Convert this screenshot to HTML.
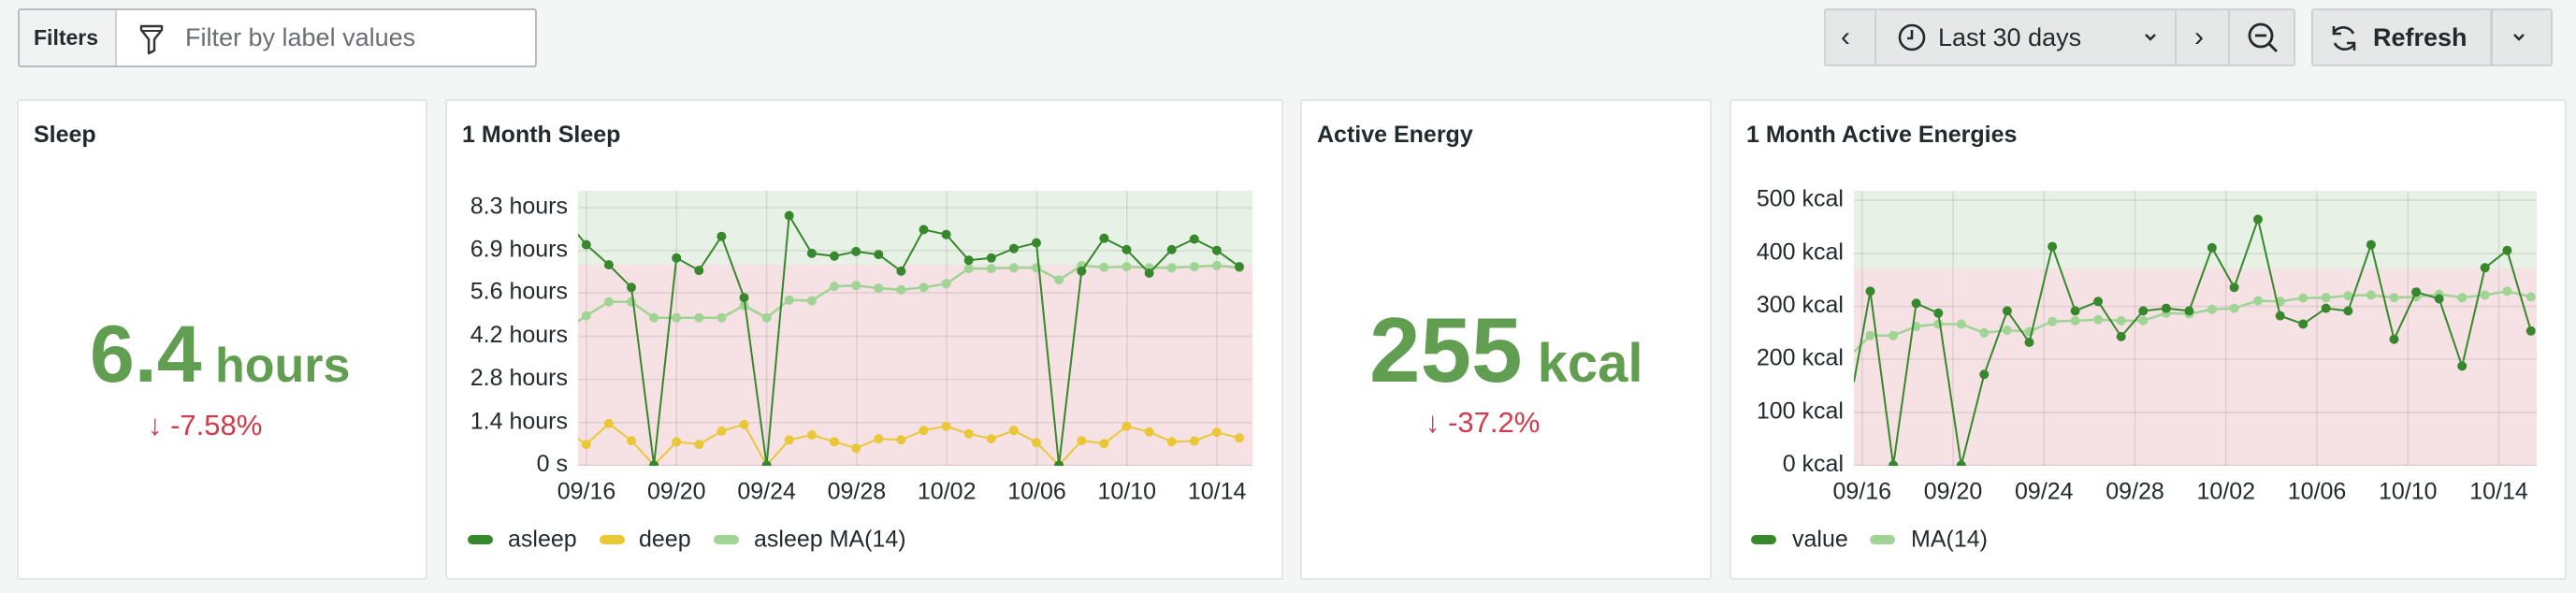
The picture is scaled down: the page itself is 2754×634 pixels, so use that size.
<!DOCTYPE html>
<html><head><meta charset="utf-8"><style>
*{box-sizing:border-box;margin:0;padding:0}
body{width:2754px;height:634px;background:#f4f5f5;font-family:"Liberation Sans",sans-serif;color:#24292e;position:relative;overflow:hidden}
.abs{position:absolute}
.panel{position:absolute;top:106px;height:514px;background:#fff;border:2px solid #e4e6e8;border-radius:3px}
.title{position:absolute;top:22px;left:16px;font-size:25px;font-weight:bold;color:#24292e}
.btn{position:absolute;background:#e6e8e8;border:2px solid #cfd2d4;border-radius:3px;top:9px;height:62px}
.sep{position:absolute;top:0;bottom:0;width:2px;background:#cfd2d4}
.bt{position:absolute;top:0;height:58px;line-height:58px;font-size:27px;color:#24292e}
</style></head><body>
<div class="abs" style="left:19px;top:9px;width:555px;height:63px;background:#fff;border:2px solid #b8bbbe;border-radius:3px"></div>
<div class="abs" style="left:21px;top:11px;width:104px;height:59px;background:#f1f2f2;border-right:2px solid #cfd2d4"></div>
<div class="abs" style="left:36px;top:27px;font-size:23px;font-weight:bold;color:#24292e">Filters</div>
<svg class="abs" style="left:148px;top:25px" width="28" height="34" viewBox="0 0 28 34"><path d="M3 3h22v4l-8 10v12l-6 3V17L3 7z" fill="none" stroke="#333" stroke-width="2.4" stroke-linejoin="round"/><line x1="3" y1="8" x2="25" y2="8" stroke="#333" stroke-width="2"/></svg>
<div class="abs" style="left:198px;top:25px;font-size:27px;color:#6a6e73">Filter by label values</div>

<div class="btn" style="left:1950px;width:504px">
 <div class="sep" style="left:52px"></div><div class="sep" style="left:373px"></div><div class="sep" style="left:430px"></div>
 <div class="bt" style="left:16px;font-size:30px">‹</div>
 <svg class="abs" style="left:76px;top:13px" width="32" height="32"><circle cx="16" cy="16" r="13" fill="none" stroke="#24292e" stroke-width="2.6"/><path d="M16 8v9h-5" fill="none" stroke="#24292e" stroke-width="2.6"/></svg>
 <div class="bt" style="left:120px">Last 30 days</div>
 <svg class="abs" style="left:340px;top:24px" width="14" height="10"><path d="M2 2l5 5 5-5" fill="none" stroke="#24292e" stroke-width="2.4"/></svg>
 <div class="bt" style="left:394px;font-size:30px">›</div>
 <svg class="abs" style="left:450px;top:12px" width="36" height="36"><circle cx="15" cy="15" r="12" fill="none" stroke="#24292e" stroke-width="2.8"/><line x1="9" y1="15" x2="21" y2="15" stroke="#24292e" stroke-width="2.8"/><line x1="24" y1="24" x2="32" y2="32" stroke="#24292e" stroke-width="2.8"/></svg>
</div>
<div class="btn" style="left:2471px;width:258px">
 <div class="sep" style="left:189px;width:3px"></div>
 <svg class="abs" style="left:16px;top:13px" width="34" height="34" viewBox="0 0 34 34"><path d="M27 12A12 12 0 0 0 6 11M7 22a12 12 0 0 0 21 1" fill="none" stroke="#24292e" stroke-width="2.6"/><path d="M6 4v8h8M28 30v-8h-8" fill="none" stroke="#24292e" stroke-width="2.6"/></svg>
 <div class="bt" style="left:64px;font-weight:bold">Refresh</div>
 <svg class="abs" style="left:213px;top:24px" width="14" height="10"><path d="M2 2l5 5 5-5" fill="none" stroke="#24292e" stroke-width="2.4"/></svg>
</div>

<div class="panel" style="left:18px;width:439px"><div class="title">Sleep</div></div>
<div class="panel" style="left:476px;width:896px"><div class="title">1 Month Sleep</div></div>
<div class="panel" style="left:1390px;width:440px"><div class="title">Active Energy</div></div>
<div class="panel" style="left:1849px;width:895px"><div class="title">1 Month Active Energies</div></div>

<div class="abs" style="left:96px;top:330px;color:#629e51;font-weight:bold;white-space:nowrap"><span style="font-size:86px">6.4</span><span style="font-size:52px"> hours</span></div>
<div class="abs" style="left:158px;top:437px;color:#d13c4a;font-size:31px;white-space:nowrap"><b>↓</b> -7.58%</div>
<div class="abs" style="left:1464px;top:318px;color:#629e51;font-weight:bold;white-space:nowrap"><span style="font-size:98px">255</span><span style="font-size:58px"> kcal</span></div>
<div class="abs" style="left:1524px;top:434px;color:#d13c4a;font-size:31px;white-space:nowrap"><b>↓</b> -37.2%</div>

<svg id="c" class="abs" style="left:0;top:0" width="2754" height="634" font-family="Liberation Sans, sans-serif"></svg>
<script>
var S=document.getElementById('c'),h='';
function T(x,y,t,a,sz,col){h+='<text x="'+x+'" y="'+y+'" text-anchor="'+(a||'start')+'" font-size="'+(sz||24)+'" fill="'+(col||'#24292e')+'" dominant-baseline="middle">'+t+'</text>';}
var L1=618,R1=1339,T1=204,B1=498;
h+='<clipPath id="k1"><rect x="'+L1+'" y="'+T1+'" width="'+(R1-L1)+'" height="'+(B1-T1)+'"/></clipPath>';
h+='<rect x="'+L1+'" y="204" width="'+(R1-L1)+'" height="79" fill="#e7f1e5"/><rect x="'+L1+'" y="283" width="'+(R1-L1)+'" height="215" fill="#f6e2e4"/>';
var yl=['8.3 hours','6.9 hours','5.6 hours','4.2 hours','2.8 hours','1.4 hours','0 s'],yy=[222,268,313,359.5,405.6,451.7,497.4];
for(var i=0;i<7;i++){h+='<line x1="'+L1+'" x2="'+R1+'" y1="'+yy[i]+'" y2="'+yy[i]+'" stroke="rgba(0,0,0,0.09)" stroke-width="1.5"/>';T(607,yy[i],yl[i],'end',25);}
var xl=['09/16','09/20','09/24','09/28','10/02','10/06','10/10','10/14'];
for(i=0;i<8;i++){var x=627+i*96.3;h+='<line x1="'+x+'" x2="'+x+'" y1="'+T1+'" y2="'+B1+'" stroke="rgba(0,0,0,0.09)" stroke-width="1.5"/>';T(x,527,xl[i],'middle',25);}
var zx=[692,702,729,756,783,810,837,864,891,918,945,972,999,1025,1052,1079,1106,1133,1160,1187,1214,1241,1268,1295,1322,1349,1376,1403,1430,1457,1484];
var as=[620,647,700,760,1230,682,715,625,787,1230,570,670,677,665,673,717,607,620,688,682,657,642,1230,717,630,660,722,660,632,662,705];
var dp=[1160,1175,1120,1165,1230,1168,1175,1140,1122,1230,1163,1150,1168,1185,1160,1163,1138,1127,1147,1160,1138,1170,1230,1165,1173,1127,1142,1168,1166,1143,1158];
var ma=[850,835,798,798,840,840,840,840,808,840,793,795,757,755,762,766,760,750,710,710,708,708,740,702,707,705,708,708,705,702,708];
function ser(xs,ys,fx,col,w,clip){var p='',d='';for(var j=0;j<xs.length;j++){var X=fx(xs[j]),Y=ys[j]/2.473;p+=(j?'L':'M')+X.toFixed(1)+' '+Y.toFixed(1);if(j>0)d+='<circle cx="'+X.toFixed(1)+'" cy="'+Y.toFixed(1)+'" r="5" fill="'+col+'"/>';}
h+='<g clip-path="url(#'+clip+')"><path d="'+p+'" fill="none" stroke="'+col+'" stroke-width="'+w+'"/>'+d+'</g>';}
var f1=function(x){return x/1.12;};
ser(zx,dp,f1,'#eac736',2,'k1');ser(zx,ma,f1,'#9fd494',2.5,'k1');ser(zx,as,f1,'#37872d',2,'k1');
function lg(x,col,t,tx){h+='<rect x="'+x+'" y="572" width="27" height="10" rx="5" fill="'+col+'"/>';T(tx,578,t,'start',25);}
lg(500,'#37872d','asleep',543);lg(641,'#eac736','deep',683);lg(763,'#9fd494','asleep MA(14)',806);
var L2=1982,R2=2712;
h+='<clipPath id="k2"><rect x="'+L2+'" y="'+T1+'" width="'+(R2-L2)+'" height="'+(B1-T1)+'"/></clipPath>';
h+='<rect x="'+L2+'" y="204" width="'+(R2-L2)+'" height="83" fill="#e7f1e5"/><rect x="'+L2+'" y="287" width="'+(R2-L2)+'" height="211" fill="#f6e2e4"/>';
var y2=['500 kcal','400 kcal','300 kcal','200 kcal','100 kcal','0 kcal'],yv=[214,271,327.5,384,441,497.4];
for(i=0;i<6;i++){h+='<line x1="'+L2+'" x2="'+R2+'" y1="'+yv[i]+'" y2="'+yv[i]+'" stroke="rgba(0,0,0,0.09)" stroke-width="1.5"/>';T(1971,yv[i],y2[i],'end',25);}
for(i=0;i<8;i++){var x=1990.8+i*97.25;h+='<line x1="'+x+'" x2="'+x+'" y1="'+T1+'" y2="'+B1+'" stroke="rgba(0,0,0,0.09)" stroke-width="1.5"/>';T(x,527,xl[i],'middle',25);}
var zx2=[687,707,735,763,790,818,846,874,901,929,957,985,1013,1040,1068,1096,1124,1151,1180,1207,1235,1263,1290,1318,1346,1373,1401,1429,1457,1484,1513];
var vv=[1010,770,1230,802,828,1230,990,822,905,652,822,797,890,822,815,822,655,760,580,835,857,815,822,647,897,772,790,968,708,662,875];
var m2=[930,887,887,863,857,857,880,873,877,850,848,845,848,848,828,830,818,815,795,797,788,787,782,780,787,785,778,787,780,770,785];
var f2=function(x){return 1380+x/1.1412;};
ser(zx2,m2,f2,'#9fd494',2.5,'k2');ser(zx2,vv,f2,'#37872d',2,'k2');
lg(1872,'#37872d','value',1916);lg(1999,'#9fd494','MA(14)',2043);
S.innerHTML=h;
</script>
</body></html>
